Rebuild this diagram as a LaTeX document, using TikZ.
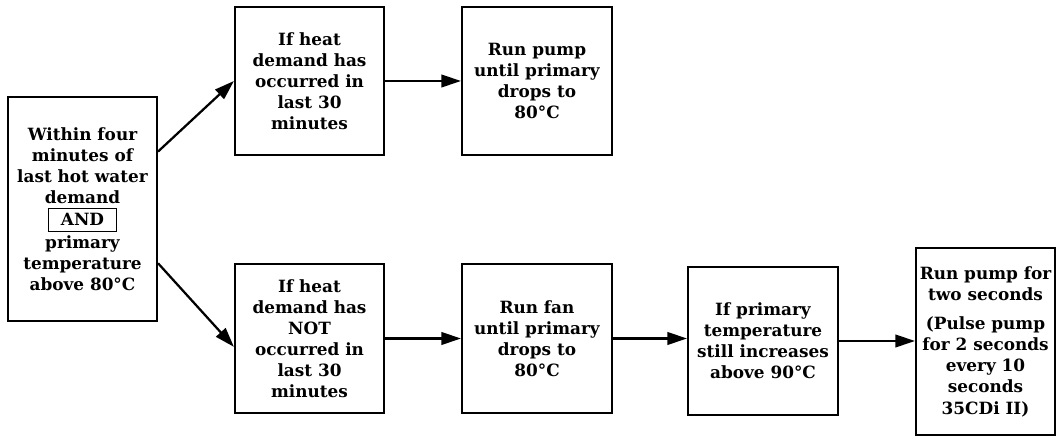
\documentclass[tikz,border=0pt]{standalone}
\usepackage{fontspec}
\setmainfont{DejaVu Serif}
\usetikzlibrary{arrows.meta,calc}
\setlength{\fboxrule}{0.6pt}
\setlength{\fboxsep}{3.5pt}
\begin{document}
\begin{tikzpicture}[
  stepbox/.style={draw,line width=1.5pt,align=center,inner sep=2pt,
    font=\fontsize{12}{15}\selectfont\bfseries},
  flow/.style={line width=1.6pt,-{Triangle[length=14pt,width=9pt]}}]
\useasboundingbox (0,0) rectangle (26.55,10.925);
\node[stepbox,minimum width=3.725cm,minimum height=5.6cm] (lead) at (2.0625,5.7)
  {Within four\\minutes of\\last hot water\\demand\\[1pt]
   \fbox{\makebox[1.45cm]{AND}}\\[1pt]primary\\temperature\\above 80°C};
\node[stepbox,minimum width=3.725cm,minimum height=3.7cm] (recent) at (7.7375,8.9)
  {If heat\\demand has\\occurred in\\last 30\\minutes};
\node[stepbox,minimum width=3.75cm,minimum height=3.7cm] (pump) at (13.425,8.9)
  {Run pump\\until primary\\drops to\\80°C};
\node[stepbox,minimum width=3.725cm,minimum height=3.725cm] (norecent) at (7.7375,2.4625)
  {If heat\\demand has\\NOT\\occurred in\\last 30\\minutes};
\node[stepbox,minimum width=3.75cm,minimum height=3.725cm] (fan) at (13.425,2.4625)
  {Run fan\\until primary\\drops to\\80°C};
\node[stepbox,minimum width=3.75cm,minimum height=3.7cm] (rise) at (19.075,2.4)
  {If primary\\temperature\\still increases\\above 90°C};
\node[stepbox,minimum width=3.475cm,minimum height=4.675cm] (pulse) at (24.6375,2.3875)
  {Run pump for\\two seconds\\[6pt](Pulse pump\\for 2 seconds\\every 10\\seconds\\35CDi II)};
\draw[flow] ($(lead.north east)!0.246!(lead.south east)$) -- (recent.west);
\draw[flow] ($(lead.north east)!0.74!(lead.south east)$) -- ($(norecent.west)+(0,-0.21)$);
\draw[flow] (recent.east) -- (pump.west);
\draw[flow] (norecent.east) -- (fan.west);
\draw[flow] (fan.east) -- (fan.east -| rise.west);
\draw[flow] (rise.east) -- (rise.east -| pulse.west);
\end{tikzpicture}
\end{document}
